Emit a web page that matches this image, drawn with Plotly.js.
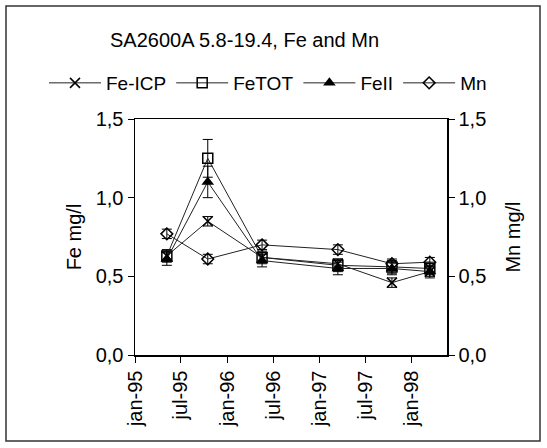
<!DOCTYPE html>
<html>
<head>
<meta charset="utf-8">
<script src="https://cdn.plot.ly/plotly-3.0.1.min.js"></script>
<style>html,body{margin:0;padding:0;background:#fff;}#chart{width:547px;height:448px;}</style>
</head>
<body>
<div id="chart"></div>
<script>
const dates = ['1995-05-07','1995-10-16','1996-05-18','1997-03-14','1997-10-14','1998-03-13'];
const feICP = [0.63, 0.85, 0.62, 0.58, 0.46, 0.53];
const feICPerr = [0.03, 0.03, 0.03, 0.03, 0.03, 0.03];
const feTOT = [0.63, 1.25, 0.62, 0.57, 0.56, 0.55];
const feTOTerr = [0.04, 0.12, 0.04, 0.04, 0.04, 0.04];
const feII = [0.61, 1.10, 0.60, 0.55, 0.55, 0.53];
const feIIerr = [0.04, 0.10, 0.04, 0.04, 0.04, 0.04];
const mn = [0.77, 0.61, 0.70, 0.67, 0.58, 0.59];
const mnErr = [0.03, 0.03, 0.03, 0.03, 0.03, 0.03];
const tickDates = ['1995-01-01','1995-07-01','1996-01-01','1996-07-01','1997-01-01','1997-07-01','1998-01-01'];
const tickLabels = ['jan-95','jul-95','jan-96','jul-96','jan-97','jul-97','jan-98'];
const yTicks = [0, 0.5, 1.0, 1.5];
const yTickLabels = ['0,0','0,5','1,0','1,5'];

const FONT = 'Liberation Sans, Arial, sans-serif';
const BLACK = '#000000';
function err(a){return {type:'data', array:a, visible:true, color:BLACK, thickness:1, width:5};}
const lineStyle = {color:'#222', width:1};

const traces = [
  {x:dates, y:feICP, name:'Fe-ICP', mode:'lines+markers', line:lineStyle,
   marker:{symbol:'x-thin-open', size:10, color:BLACK, line:{color:BLACK, width:1.5}}, error_y:err(feICPerr)},
  {x:dates, y:feTOT, name:'FeTOT', mode:'lines+markers', line:lineStyle,
   marker:{symbol:'square-open', size:10, color:BLACK, line:{color:BLACK, width:1.5}}, error_y:err(feTOTerr)},
  {x:dates, y:feII, name:'FeII', mode:'lines+markers', line:lineStyle,
   marker:{symbol:'triangle-up', size:11, color:BLACK}, error_y:err(feIIerr)},
  {x:dates, y:mn, name:'Mn', mode:'lines+markers', line:lineStyle, yaxis:'y2',
   marker:{symbol:'diamond-open', size:9, color:BLACK, line:{color:BLACK, width:1.5}}, error_y:err(mnErr)}
];

const layout = {
  width:547, height:448,
  margin:{l:135, r:100, t:119, b:93},
  paper_bgcolor:'#fff', plot_bgcolor:'#fff',
  font:{family:FONT, size:19, color:BLACK},
  showlegend:true,
  title:{text:'SA2600A 5.8-19.4, Fe and Mn', font:{family:FONT, size:20, color:BLACK},
    xref:'container', yref:'container', x:0.447, xanchor:'center', y:1-40/448, yanchor:'middle'},
  legend:{orientation:'h', xref:'paper', yref:'paper', x:(44-135)/312, xanchor:'left', y:(355-83)/236, yanchor:'middle',
    font:{family:FONT, size:19, color:BLACK}, itemwidth:52, tracegroupgap:0, bgcolor:'rgba(0,0,0,0)'},
  xaxis:{type:'date', range:['1995-01-01','1998-05-20'], tickmode:'array', tickvals:tickDates, ticktext:tickLabels,
    tickangle:-90, ticks:'outside', ticklen:6, tickcolor:BLACK, showline:true, linecolor:BLACK, linewidth:1.5,
    mirror:true, showgrid:false, zeroline:false, tickfont:{family:FONT, size:20, color:BLACK}},
  yaxis:{range:[0,1.5], tickmode:'array', tickvals:yTicks, ticktext:yTickLabels, ticks:'outside', ticklen:6,
    tickcolor:BLACK, showline:true, linecolor:BLACK, linewidth:1.5, showgrid:false, zeroline:false,
    tickfont:{family:FONT, size:20, color:BLACK},
    title:{text:'Fe mg/l', font:{family:FONT, size:20, color:BLACK}, standoff:8}},
  yaxis2:{range:[0,1.5], overlaying:'y', side:'right', tickmode:'array', tickvals:yTicks, ticktext:yTickLabels,
    ticks:'outside', ticklen:6, tickcolor:BLACK, showline:true, linecolor:BLACK, linewidth:1.5, showgrid:false,
    zeroline:false, tickfont:{family:FONT, size:20, color:BLACK},
    title:{text:'Mn mg/l', font:{family:FONT, size:20, color:BLACK}, standoff:20}},
  shapes:[{type:'rect', xref:'paper', yref:'paper', x0:(6-135)/312, x1:(540-135)/312, y0:(355-441)/236, y1:(355-6)/236,
    line:{color:'#333', width:1.5}, fillcolor:'rgba(0,0,0,0)', layer:'below'}]
};

Plotly.newPlot('chart', traces, layout, {displayModeBar:false, staticPlot:true});
</script>
</body>
</html>
